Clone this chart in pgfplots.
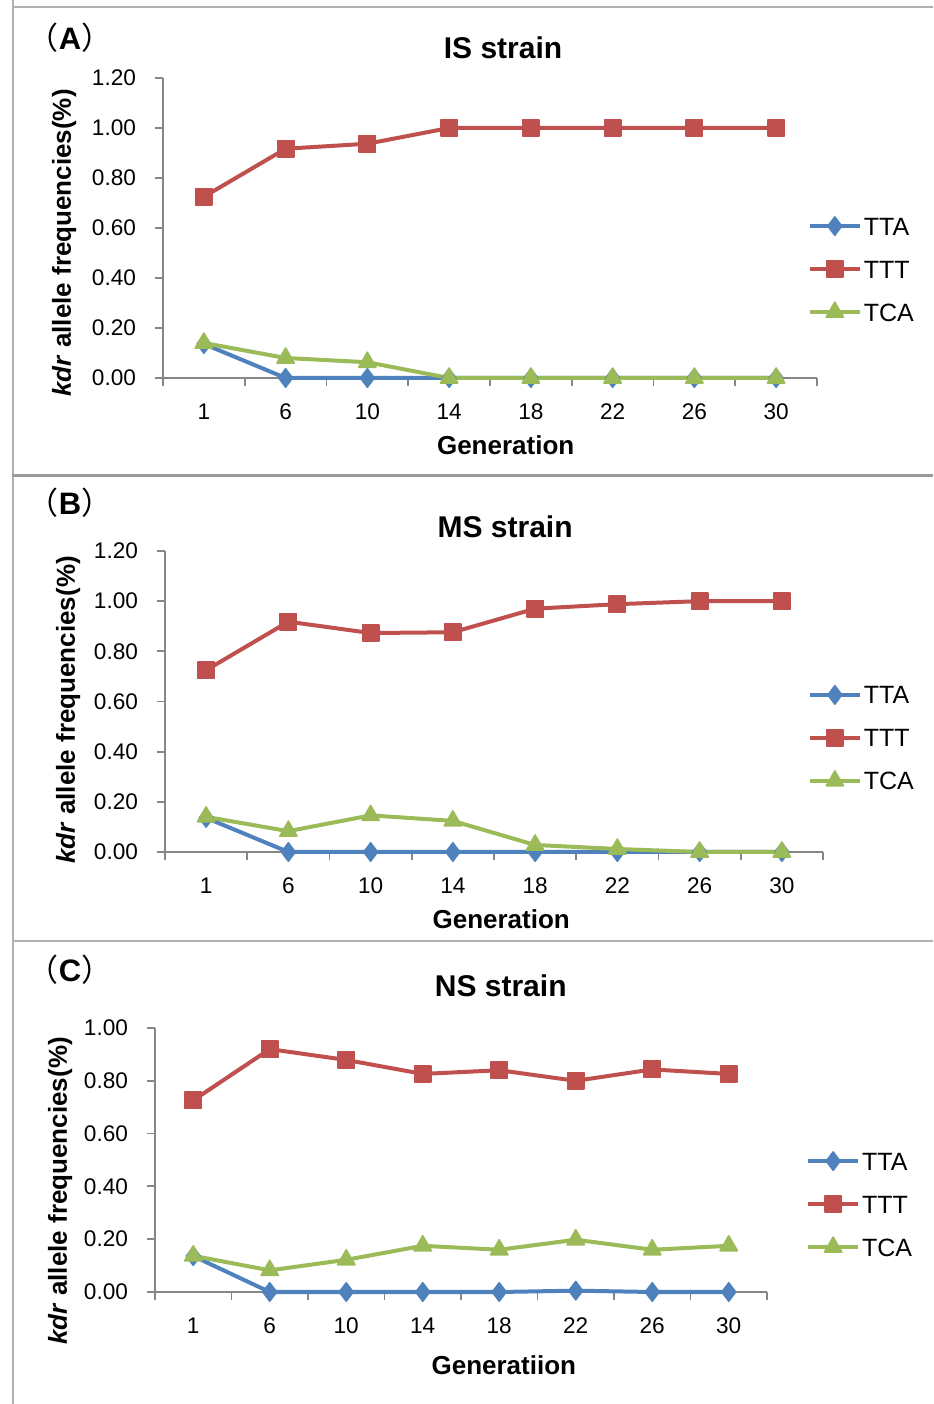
\documentclass[border=0pt]{standalone}
\usepackage{pgfplots}
\pgfplotsset{compat=1.18}
\usepackage{fontspec}
\setmainfont{Liberation Sans}
\newfontfamily\cjk{Noto Sans CJK SC}
\definecolor{ttablue}{HTML}{4F81BD}
\definecolor{tttred}{HTML}{C0504D}
\definecolor{tcagreen}{HTML}{9BBB59}
\definecolor{axgray}{HTML}{868686}
\definecolor{framegray}{HTML}{B0B0B0}
\definecolor{framedark}{HTML}{9A9A9A}

\pgfplotsset{
  every axis title shift=0pt,
  kdrstyle/.style={
    scale only axis,
    clip=false,
    xmin=0.5, xmax=8.5, ymin=0,
    axis x line*=bottom, axis y line*=left,
    axis line style={draw=axgray, line width=0.9pt, -},
    xtick={1,2,3,4,5,6,7,8},
    xticklabels={1,6,10,14,18,22,26,30},
    minor xtick={0.5,1.5,2.5,3.5,4.5,5.5,6.5,7.5,8.5},
    major x tick style={draw=none},
    minor x tick style={draw=axgray, line width=0.9pt},
    minor tick length=4pt,
    y tick style={draw=axgray, line width=0.9pt},
    major tick length=4pt,
    tick align=outside,
    /pgf/number format/assume math mode=true,
    yticklabel style={/pgf/number format/fixed, /pgf/number format/fixed zerofill, /pgf/number format/precision=2, xshift=-6pt},
    ticklabel style={font=\fontsize{11.3}{13}\selectfont},
    xticklabel style={yshift=-5.5pt},
    title style={font=\fontsize{15}{17}\selectfont\bfseries, anchor=center},
    xlabel style={font=\fontsize{13}{15}\selectfont\bfseries, anchor=center},
    ylabel style={font=\fontsize{13}{15}\selectfont\bfseries, anchor=center},
    legend cell align=left,
    legend image code/.code={\draw[##1, mark repeat=2, mark phase=2] plot coordinates {(0pt,0pt) (12.5pt,0pt) (25pt,0pt)};},
    legend style={draw=none, fill=none, inner sep=0pt, outer sep=0pt, anchor=west,
      font=\fontsize{12.5}{14}\selectfont, row sep=10.5pt,
      nodes={inner sep=1pt, text height=9pt, text depth=0pt}},
  },
  tta/.style={color=ttablue, line width=2pt, line join=round, mark=diamond*, mark size=4.6pt, mark options={solid, fill=ttablue, line width=0.8pt}},
  ttt/.style={color=tttred, line width=2pt, line join=round, mark=square*, mark size=4.1pt, mark options={solid, fill=tttred, line width=0.8pt}},
  tca/.style={color=tcagreen, line width=2pt, line join=round, mark=triangle*, mark size=5pt, mark options={solid, fill=tcagreen, line width=0.8pt}},
}

\begin{document}
\begin{tikzpicture}
% frames
\draw[framegray, line width=1pt] (6.5pt,702pt) -- (6.5pt,0pt);
\draw[framegray, line width=1pt] (6pt,698.5pt) -- (466.5pt,698.5pt);
\draw[framedark, line width=1.5pt] (6pt,464pt) -- (466.5pt,464pt);
\draw[framegray, line width=1pt] (6pt,231.5pt) -- (466.5pt,231.5pt);

% panel labels
\node[font=\fontsize{15.5}{17}\selectfont] at (35pt,683pt) {{\cjk （}\textbf{A}{\cjk ）}};
\node[font=\fontsize{15.5}{17}\selectfont] at (35pt,450.5pt) {{\cjk （}\textbf{B}{\cjk ）}};
\node[font=\fontsize{15.5}{17}\selectfont] at (35pt,217pt) {{\cjk （}\textbf{C}{\cjk ）}};

% Panel A
\begin{axis}[kdrstyle,
  at={(81.5pt,513pt)}, anchor=south west,
  width=327pt, height=150pt,
  ymax=1.2, ytick={0,0.2,0.4,0.6,0.8,1.0,1.2},
  title={IS strain},
  title style={at={(axis description cs:0.52,1.10)}},
  xlabel={Generation},
  xlabel style={at={(axis description cs:0.524,-0.223)}},
  ylabel={\textit{kdr} allele frequencies(\%)},
  ylabel style={at={(axis description cs:-0.151,0.45)}},
  legend style={at={(axis description cs:0.986,0.363)}},
]
\addplot[tta] coordinates {(1,0.136) (2,0) (3,0) (4,0) (5,0) (6,0) (7,0) (8,0)};
\addlegendentry{TTA}
\addplot[ttt] coordinates {(1,0.725) (2,0.917) (3,0.937) (4,1) (5,1) (6,1) (7,1) (8,1)};
\addlegendentry{TTT}
\addplot[tca] coordinates {(1,0.14) (2,0.08) (3,0.063) (4,0) (5,0) (6,0) (7,0) (8,0)};
\addlegendentry{TCA}
\end{axis}

% Panel B
\begin{axis}[kdrstyle,
  at={(82.5pt,276pt)}, anchor=south west,
  width=329pt, height=150.5pt,
  ymax=1.2, ytick={0,0.2,0.4,0.6,0.8,1.0,1.2},
  title={MS strain},
  title style={at={(axis description cs:0.517,1.08)}},
  xlabel={Generation},
  xlabel style={at={(axis description cs:0.511,-0.223)}},
  ylabel={\textit{kdr} allele frequencies(\%)},
  ylabel style={at={(axis description cs:-0.147,0.472)}},
  legend style={at={(axis description cs:0.977,0.379)}},
]
\addplot[tta] coordinates {(1,0.136) (2,0) (3,0) (4,0) (5,0) (6,0) (7,0) (8,0)};
\addlegendentry{TTA}
\addplot[ttt] coordinates {(1,0.725) (2,0.918) (3,0.873) (4,0.876) (5,0.970) (6,0.988) (7,1) (8,1)};
\addlegendentry{TTT}
\addplot[tca] coordinates {(1,0.14) (2,0.083) (3,0.146) (4,0.124) (5,0.028) (6,0.012) (7,0) (8,0)};
\addlegendentry{TCA}
\end{axis}

% Panel C
\begin{axis}[kdrstyle,
  at={(77.5pt,56pt)}, anchor=south west,
  width=306pt, height=132pt,
  ymax=1.0, ytick={0,0.2,0.4,0.6,0.8,1.0},
  title={NS strain},
  title style={at={(axis description cs:0.565,1.159)}},
  xlabel={Generatiion},
  xlabel style={at={(axis description cs:0.570,-0.277)}},
  ylabel={\textit{kdr} allele frequencies(\%)},
  ylabel style={at={(axis description cs:-0.155,0.383)}},
  legend style={at={(axis description cs:1.064,0.333)}},
]
\addplot[tta] coordinates {(1,0.136) (2,0) (3,0) (4,0) (5,0) (6,0.005) (7,0) (8,0)};
\addlegendentry{TTA}
\addplot[ttt] coordinates {(1,0.726) (2,0.920) (3,0.879) (4,0.826) (5,0.840) (6,0.800) (7,0.843) (8,0.826)};
\addlegendentry{TTT}
\addplot[tca] coordinates {(1,0.137) (2,0.082) (3,0.122) (4,0.175) (5,0.160) (6,0.198) (7,0.160) (8,0.175)};
\addlegendentry{TCA}
\end{axis}

\pgfresetboundingbox
\path[use as bounding box] (0pt,0pt) rectangle (466.5pt,702pt);
\end{tikzpicture}
\end{document}
